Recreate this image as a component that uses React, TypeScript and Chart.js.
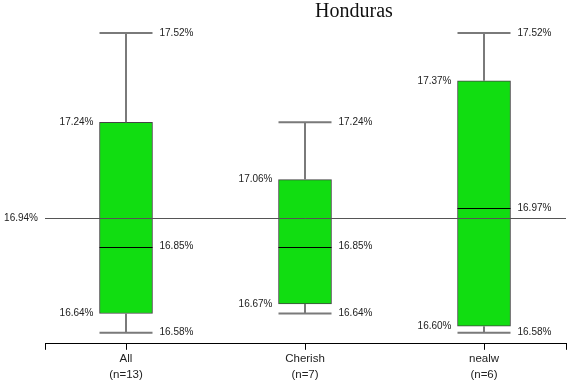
import React, { useEffect, useRef } from "react";
import { Chart, registerables } from "chart.js";

Chart.register(...registerables);

const title = "Honduras";
const categories = ["All", "Cherish", "nealw"];
const counts = [13, 7, 6];
const minVals = [16.58, 16.64, 16.58];
const q1Vals = [16.64, 16.67, 16.6];
const medianVals = [16.85, 16.85, 16.97];
const q3Vals = [17.24, 17.06, 17.37];
const maxVals = [17.52, 17.24, 17.52];
const referenceValue = 16.94;

const fmt = (v: number) => v.toFixed(2) + "%";

const BOX_W = 53;
const LABEL_FONT = "10px 'Liberation Sans', Arial, sans-serif";
const TEXT_COLOR = "#222";
const WHISKER_COLOR = "#7a7a7a";

const boxPlugin = {
  id: "boxExtras",
  afterDatasetsDraw(chart: any) {
    const { ctx, chartArea, scales } = chart;
    const xs = scales.x;
    const ys = scales.y;
    ctx.save();
    // reference line
    const ry = Math.round(ys.getPixelForValue(referenceValue)) + 0.5;
    ctx.strokeStyle = "#555";
    ctx.lineWidth = 1;
    ctx.beginPath();
    ctx.moveTo(chartArea.left, ry);
    ctx.lineTo(chartArea.right, ry);
    ctx.stroke();
    ctx.font = LABEL_FONT;
    ctx.fillStyle = TEXT_COLOR;
    ctx.textBaseline = "middle";
    ctx.textAlign = "right";
    ctx.fillText(fmt(referenceValue), chartArea.left - 7, ry);

    categories.forEach((_, i) => {
      const cx = Math.round(xs.getPixelForValue(i));
      const left = cx - BOX_W / 2;
      const right = cx + BOX_W / 2;
      const yMin = ys.getPixelForValue(minVals[i]);
      const yQ1 = ys.getPixelForValue(q1Vals[i]);
      const yMed = ys.getPixelForValue(medianVals[i]);
      const yQ3 = ys.getPixelForValue(q3Vals[i]);
      const yMax = ys.getPixelForValue(maxVals[i]);

      ctx.strokeStyle = WHISKER_COLOR;
      ctx.lineWidth = 2;
      ctx.beginPath();
      ctx.moveTo(cx, yQ3);
      ctx.lineTo(cx, yMax);
      ctx.moveTo(cx, yQ1);
      ctx.lineTo(cx, yMin);
      ctx.moveTo(left, yMax);
      ctx.lineTo(right, yMax);
      ctx.moveTo(left, yMin);
      ctx.lineTo(right, yMin);
      ctx.stroke();

      ctx.strokeStyle = "#000";
      ctx.lineWidth = 1;
      const my = Math.round(yMed) + 0.5;
      ctx.beginPath();
      ctx.moveTo(left, my);
      ctx.lineTo(right, my);
      ctx.stroke();

      ctx.fillStyle = TEXT_COLOR;
      ctx.textAlign = "left";
      ctx.fillText(fmt(maxVals[i]), right + 7, yMax);
      ctx.fillText(fmt(minVals[i]), right + 7, yMin);
      ctx.fillText(fmt(medianVals[i]), right + 7, yMed);
      ctx.textAlign = "right";
      ctx.fillText(fmt(q3Vals[i]), left - 6, yQ3);
      ctx.fillText(fmt(q1Vals[i]), left - 6, yQ1);
    });

    // title
    ctx.font = "20px 'Liberation Serif', 'Times New Roman', serif";
    ctx.fillStyle = "#111";
    ctx.textAlign = "center";
    ctx.textBaseline = "middle";
    ctx.fillText(title, 354, 12);
    ctx.restore();
  },
};

export default function App() {
  const ref = useRef<HTMLCanvasElement>(null);
  useEffect(() => {
    if (!ref.current) return;
    const xMin = -0.4525;
    const xMax = 2.458;
    const chart = new Chart(ref.current, {
      type: "bar",
      data: {
        datasets: [
          {
            data: categories.map((_, i) => ({ x: i, y: [q1Vals[i], q3Vals[i]] })) as any,
            backgroundColor: "#11dd11",
            borderColor: "#444",
            borderWidth: 1,
            borderSkipped: false,
            barThickness: BOX_W,
          },
        ],
      },
      options: {
        animation: false,
        responsive: false,
        layout: { padding: { left: 45, right: 11, top: 25, bottom: 0 } },
        plugins: { legend: { display: false }, tooltip: { enabled: false }, title: { display: false } },
        scales: {
          x: {
            type: "linear",
            min: xMin,
            max: xMax,
            offset: false,
            grid: { display: true, drawOnChartArea: false, drawTicks: true, tickLength: 6, color: "#000", offset: false },
            border: { display: true, color: "#000", width: 1 },
            afterBuildTicks: (axis: any) => {
              axis.ticks = [xMin, 0, 1, 2, xMax].map((v) => ({ value: v }));
            },
            ticks: {
              autoSkip: false,
              maxRotation: 0,
              padding: 1,
              color: TEXT_COLOR,
              font: { family: "'Liberation Sans', Arial, sans-serif", size: 11.5, lineHeight: 1.4 },
              callback: (v: any) => {
                if (Number.isInteger(v) && v >= 0 && v < categories.length) return [categories[v], `(n=${counts[v]})`];
                return "";
              },
            },
          },
          y: {
            type: "linear",
            display: false,
            min: 16.545,
            max: 17.545,
          },
        },
      },
      plugins: [boxPlugin],
    });
    return () => chart.destroy();
  }, []);
  return (
    <div style={{ position: "absolute", left: 0, top: 0, width: 577, height: 384, background: "#fff" }}>
      <canvas ref={ref} width={577} height={384} />
    </div>
  );
}
